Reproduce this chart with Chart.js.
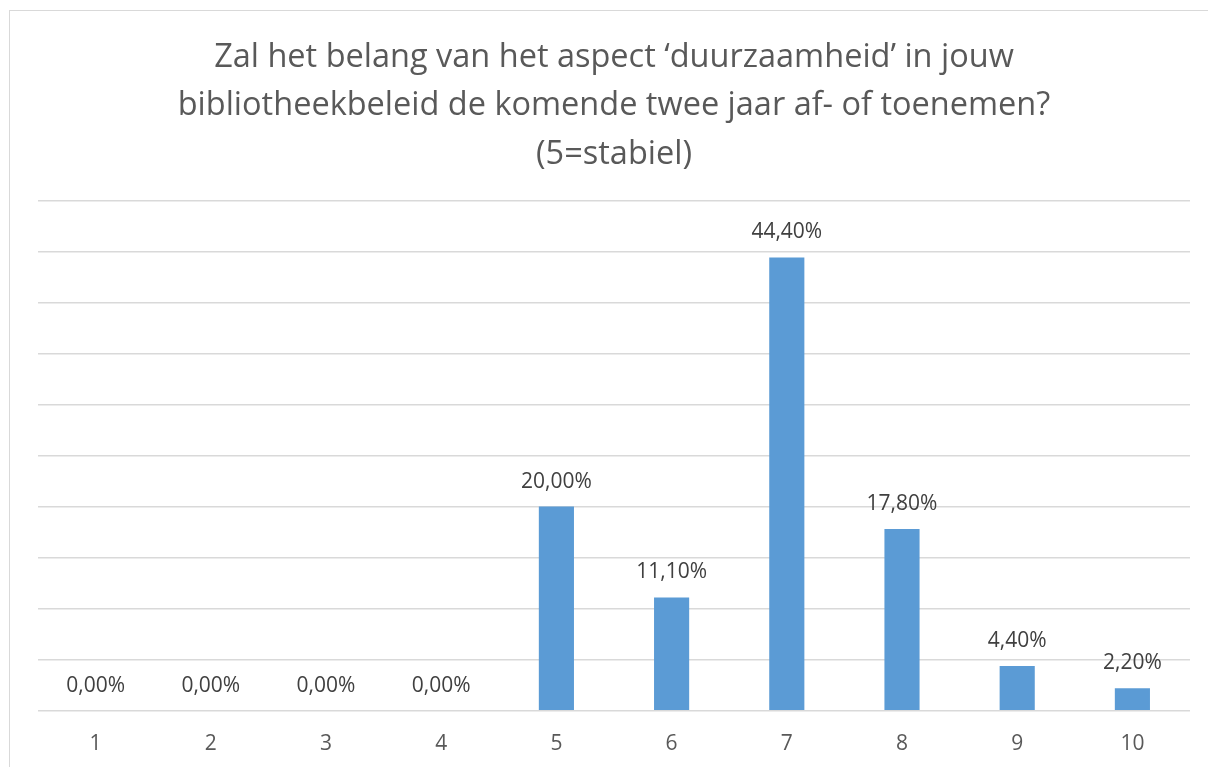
<!DOCTYPE html>
<html lang="nl">
<head>
  <meta charset="UTF-8" />
  <title>Duurzaamheid in bibliotheekbeleid</title>
  <script src="https://cdn.jsdelivr.net/npm/chart.js"></script>
  <style>
    html, body { margin: 0; padding: 0; background: #fff; overflow: hidden; }
    .frame {
      position: absolute; left: 9px; top: 10px;
      width: 1210px; height: 770px;
      border: 1px solid #d9d9d9;
    }
    .frame canvas { position: absolute; left: 0; top: 0; }
  </style>
</head>
<body>
  <div class="frame">
    <canvas id="barChart" width="1200" height="756"></canvas>
  </div>

  <script>
    // Data
    const categories = ['1', '2', '3', '4', '5', '6', '7', '8', '9', '10'];
    const percentages = [0, 0, 0, 0, 20.0, 11.1, 44.4, 17.8, 4.4, 2.2];
    const titleLines = [
      'Zal het belang van het aspect \u2018duurzaamheid\u2019 in jouw',
      'bibliotheekbeleid de komende twee jaar af- of toenemen?',
      '(5=stabiel)'
    ];

    // labels above the bars, Excel style "44,40%"
    const barLabels = {
      id: 'barLabels',
      afterDatasetsDraw(chart) {
        const ctx = chart.ctx;
        const meta = chart.getDatasetMeta(0);
        ctx.save();
        ctx.font = '21px "Open Sans"';
        ctx.fillStyle = '#404040';
        ctx.textAlign = 'center';
        ctx.textBaseline = 'middle';
        meta.data.forEach((bar, i) => {
          const txt = percentages[i].toFixed(2).replace('.', ',') + '%';
          ctx.fillText(txt, bar.x, bar.y - 25);
        });
        ctx.restore();
      }
    };

    const ctx = document.getElementById('barChart').getContext('2d');
    new Chart(ctx, {
      type: 'bar',
      data: {
        labels: categories,
        datasets: [{
          data: percentages,
          backgroundColor: '#5b9bd5',
          barPercentage: 0.305,
          categoryPercentage: 1.0
        }]
      },
      options: {
        responsive: false,
        animation: false,
        layout: { padding: { left: 28, right: 20, top: 0, bottom: -3 } },
        plugins: {
          legend: { display: false },
          tooltip: { enabled: false },
          title: {
            display: true,
            text: titleLines,
            color: '#595959',
            font: { family: 'Open Sans', size: 32.5, weight: 'normal', lineHeight: 1.48 },
            padding: { top: 23, bottom: 22 }
          }
        },
        scales: {
          x: {
            grid: { display: false },
            border: { display: false },
            ticks: {
              color: '#595959',
              font: { family: 'Open Sans', size: 21 },
              padding: 13
            }
          },
          y: {
            min: 0,
            max: 50,
            ticks: { display: false, stepSize: 5 },
            grid: { color: '#d9d9d9', lineWidth: 1.5, drawTicks: false },
            border: { display: false }
          }
        }
      },
      plugins: [barLabels]
    });
  </script>
</body>
</html>
